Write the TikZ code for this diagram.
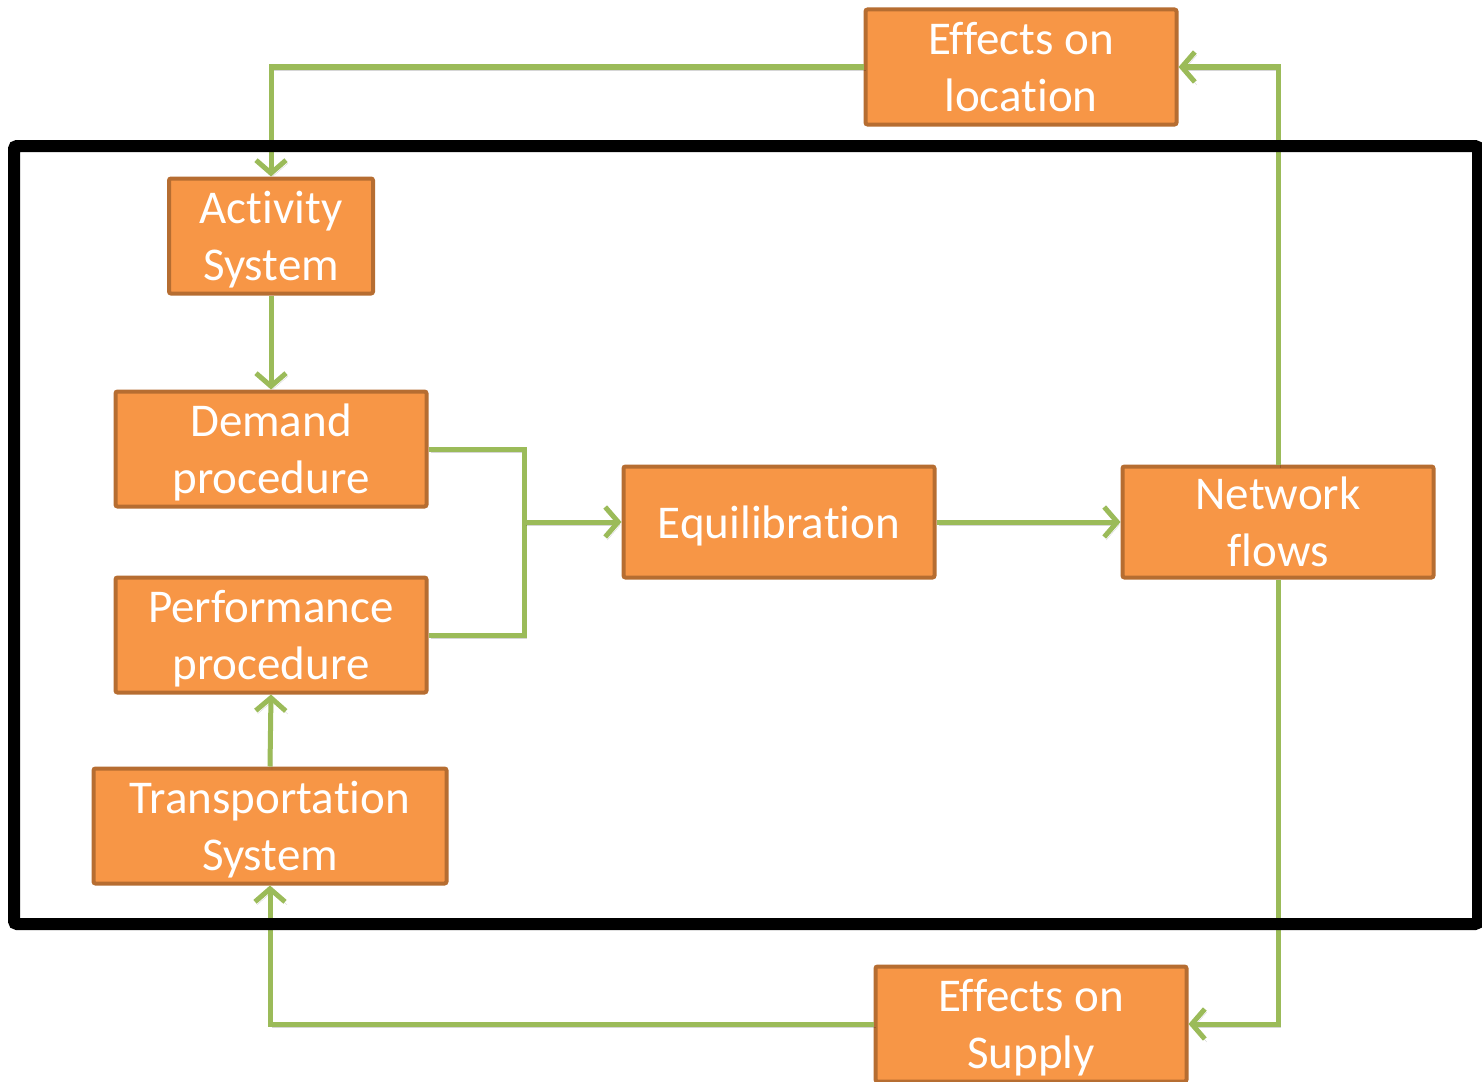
\documentclass[tikz,border=0pt]{standalone}
\usepackage{fontspec}
\setmainfont[Ligatures=NoCommon]{Carlito}
\usepackage{tikz}
\usetikzlibrary{arrows.meta,positioning,calc}
\definecolor{boxorange}{RGB}{247,150,70}
\definecolor{boxbrown}{RGB}{182,109,49}
\definecolor{flowgreen}{RGB}{155,187,89}
\tikzset{
  box/.style={rectangle,rounded corners=2pt,draw=boxbrown,line width=4pt,fill=boxorange,
              text=white,align=center,inner sep=0pt,font=\fontsize{47}{57}\selectfont,
              text depth=0pt,minimum width=311pt,minimum height=115pt},
  fl/.style={draw=flowgreen,line width=5pt,line join=miter,
             preaction={draw=black,opacity=0.16,transform canvas={shift={(2pt,-3pt)}}}},
  fla/.style={fl,-{Straight Barb[length=13pt,width=30pt]}},
  frame/.style={draw=black,line width=12pt,rounded corners=3pt},
}
\begin{document}
\begin{tikzpicture}[x=1pt,y=-1pt]
  \useasboundingbox (0,0) rectangle (1482,1081);
  % ── outer feedback boxes ──
  \node[box] (loc) at (1021,67)   {Effects on\\location};
  \node[box] (sup) at (1031,1024) {Effects on\\Supply};
  % ── left column ──
  \node[box,minimum width=204pt] (act)   at (271,236) {Activity\\System};
  \node[box]                     (dem)   at (271,449) {Demand\\procedure};
  \node[box]                     (perf)  at (271,635) {Performance\\procedure};
  \node[box,minimum width=353pt] (trans) at (270,826) {Transportation\\System};
  % ── middle and right ──
  \node[box,minimum height=111pt] (equ) at (779,522)  {Equilibration};
  \node[box,minimum height=111pt] (net) at (1278,522) {Network\\flows};
  \coordinate (jn) at (524,522);
  % ── connectors ──
  \draw[fla] (loc.west) -| (act.north);
  \draw[fla] (act.south) -- (dem.north);
  \draw[fl]  (dem.east) -| (jn);
  \draw[fl]  (perf.east) -| (jn);
  \draw[fla] (jn) -- (equ.west);
  \draw[fla] (trans.north) -- (perf.south);
  \draw[fla] (equ.east) -- (net.west);
  \draw[fla] (net.north) |- (loc.east);
  \draw[fla] (net.south) |- (sup.east);
  \draw[fla] (sup.west) -| (trans.south);
  % ── model boundary ──
  \draw[frame] (14,146) rectangle (1478,924);
\end{tikzpicture}
\end{document}
